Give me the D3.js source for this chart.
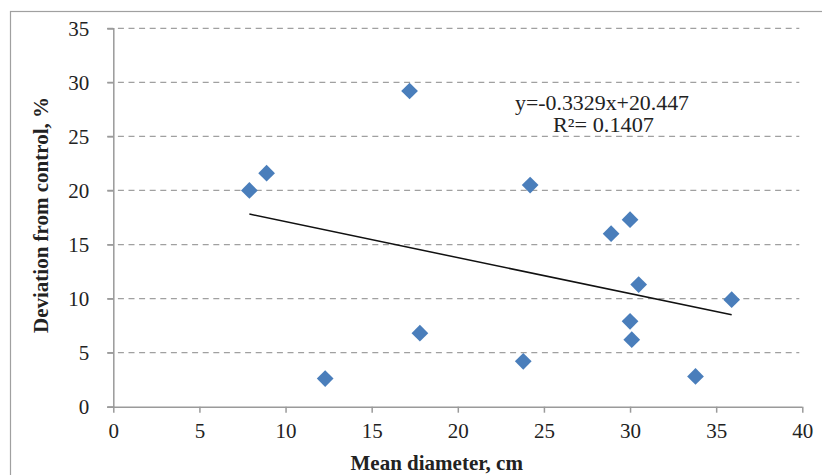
<!DOCTYPE html>
<html>
<head>
<meta charset="utf-8">
<script src="https://cdn.jsdelivr.net/npm/d3@7"></script>
<style>
  html, body { margin: 0; padding: 0; background: #fff; }
  svg { display: block; }
  text { font-family: "Liberation Serif", "Times New Roman", serif; fill: #222; }
</style>
</head>
<body>
<svg id="chart" width="822" height="475"></svg>
<script>
// ---- data ----
const meanDiameter = [7.9, 8.9, 12.3, 17.2, 17.8, 23.8, 24.2, 28.9, 30.0, 30.5, 30.0, 30.1, 33.8, 35.9];
const deviation    = [20.0, 21.6, 2.6, 29.2, 6.8, 4.2, 20.5, 16.0, 17.3, 11.3, 7.9, 6.2, 2.8, 9.9];
const xTicks = [0, 5, 10, 15, 20, 25, 30, 35, 40];
const yTicks = [0, 5, 10, 15, 20, 25, 30, 35];
const trendSlope = -0.3329;
const trendIntercept = 20.447;
const equationLabel = "y=-0.3329x+20.447";
const r2Label = "R²= 0.1407";
const xTitle = "Mean diameter, cm";
const yTitle = "Deviation from control, %";

const points = meanDiameter.map((x, i) => ({ x, y: deviation[i] }));

const svg = d3.select("#chart");
const pLeft = 113.3, pRight = 802.3, pTop = 28.3, pBottom = 406.7;
const x = d3.scaleLinear().domain([0, 40]).range([pLeft, pRight]);
const y = d3.scaleLinear().domain([0, 35]).range([pBottom, pTop]);

const axisColor = "#9a9a9a";
const serif = "'Liberation Serif', 'Times New Roman', serif";

// outer frame (clipped at right and bottom in the reference)
svg.append("rect")
  .attr("x", 10.5).attr("y", 11.5)
  .attr("width", 900).attr("height", 600)
  .attr("fill", "none").attr("stroke", "#a0a0a0").attr("stroke-width", 1.2);

// gridlines
svg.append("g").selectAll("line")
  .data(yTicks.filter(d => d > 0))
  .join("line")
  .attr("x1", pLeft - 6).attr("x2", pRight - 3)
  .attr("y1", d => y(d)).attr("y2", d => y(d))
  .attr("stroke", "#a0a0a0").attr("stroke-width", 1.3)
  .attr("stroke-dasharray", "6,4.6");

// y axis
const yAxis = svg.append("g")
  .attr("transform", `translate(${pLeft},0)`)
  .attr("font-family", serif)
  .call(d3.axisLeft(y).tickValues(yTicks).tickSize(6).tickPadding(18).tickFormat(d3.format("d")));
yAxis.attr("font-family", serif).attr("font-size", 21);
yAxis.select(".domain").attr("stroke", axisColor).attr("stroke-width", 1.5);
yAxis.selectAll(".tick line").attr("stroke", axisColor).attr("stroke-width", 1.5);
yAxis.selectAll(".tick text")
  .style("font-family", serif)
  .style("font-size", "21px").attr("fill", "#222");

// x axis
const xAxis = svg.append("g")
  .attr("transform", `translate(0,${pBottom})`)
  .call(d3.axisBottom(x).tickValues(xTicks).tickSize(6).tickPadding(10).tickFormat(d3.format("d")));
xAxis.attr("font-family", serif).attr("font-size", 21);
xAxis.select(".domain").attr("stroke", axisColor).attr("stroke-width", 1.5)
  .attr("d", `M${pLeft - 6},0.5H${pRight}`);
xAxis.selectAll(".tick line").attr("stroke", axisColor).attr("stroke-width", 1.5);
xAxis.selectAll(".tick text")
  .style("font-family", serif)
  .style("font-size", "21px").attr("fill", "#222");

// trend line
const [xmin, xmax] = d3.extent(meanDiameter);
svg.append("line")
  .attr("x1", x(xmin)).attr("y1", y(trendSlope * xmin + trendIntercept))
  .attr("x2", x(xmax)).attr("y2", y(trendSlope * xmax + trendIntercept))
  .attr("stroke", "#111").attr("stroke-width", 1.5);

// points (diamonds)
const diamond = d3.symbol().type(d3.symbolSquare).size(140);
svg.append("g").selectAll("path")
  .data(points)
  .join("path")
  .attr("d", diamond)
  .attr("transform", d => `translate(${x(d.x)},${y(d.y)}) rotate(45)`)
  .attr("fill", "#4a7ebb");

// equation
svg.append("text")
  .attr("x", 602).attr("y", 110)
  .attr("text-anchor", "middle")
  .style("font-size", "20px")
  .attr("textLength", 174).attr("lengthAdjust", "spacingAndGlyphs")
  .text(equationLabel);
svg.append("text")
  .attr("x", 603.5).attr("y", 132)
  .attr("text-anchor", "middle")
  .style("font-size", "20px")
  .attr("textLength", 101).attr("lengthAdjust", "spacingAndGlyphs")
  .text(r2Label);

// axis titles
svg.append("text")
  .attr("x", 436.7).attr("y", 469.5)
  .attr("text-anchor", "middle")
  .style("font-size", "21px").style("font-weight", "bold")
  .text(xTitle);
svg.append("text")
  .attr("transform", "translate(48,215) rotate(-90)")
  .attr("text-anchor", "middle")
  .style("font-size", "21px").style("font-weight", "bold")
  .text(yTitle);
</script>
</body>
</html>
